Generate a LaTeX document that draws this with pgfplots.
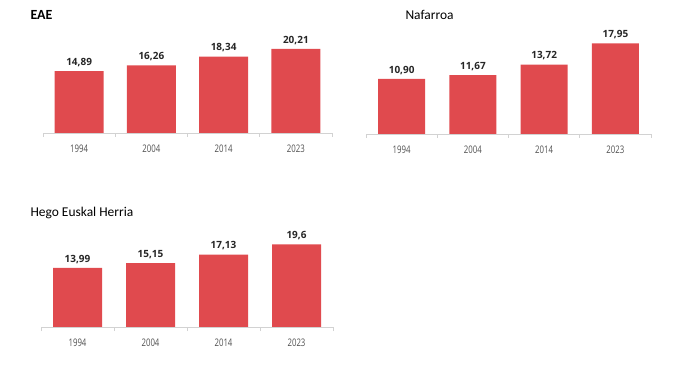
\documentclass[border=0pt]{standalone}
\usepackage{fontspec}
\setmainfont{Open Sans}
\newfontfamily\titlefont{Carlito}
\newfontfamily\tickfont[FakeStretch=0.75]{Open Sans}
\usepackage{pgfplots}
\pgfplotsset{compat=1.18}
\usepackage{pgfplotstable}
\definecolor{barred}{RGB}{224,74,78}
\definecolor{axgray}{RGB}{210,210,210}
\definecolor{tickgray}{RGB}{80,80,80}
\definecolor{lblgray}{RGB}{38,38,38}

\pgfplotstableread{
x y lbl
0 14.89 14,89
1 16.26 16,26
2 18.34 18,34
3 20.21 20,21
}\eae
\pgfplotstableread{
x y lbl
0 10.90 10,90
1 11.67 11,67
2 13.72 13,72
3 17.95 17,95
}\naf
\pgfplotstableread{
x y lbl
0 13.99 13,99
1 15.15 15,15
2 17.13 17,13
3 19.6 19,6
}\hego

\pgfplotsset{
  panel/.style={
    scale only axis, anchor=south west, clip=false,
    xmin=-0.5, xmax=3.5, ymin=0,
    axis y line=none, axis x line*=bottom,
    x axis line style={draw=axgray, line width=0.8bp},
    xtick={0,1,2,3}, xticklabels={1994,2004,2014,2023},
    major x tick style={draw=none},
    extra x ticks={-0.5,0.5,1.5,2.5,3.5}, extra x tick labels={},
    extra x tick style={tick align=outside, major tick length=4bp,
      major x tick style={draw=axgray, line width=0.8bp}},
    x tick label style={font=\tickfont\fontsize{10.5}{12}\selectfont, text=tickgray, yshift=-4.5bp},
    ybar,
    nodes near coords, point meta=explicit symbolic,
    nodes near coords style={font=\bfseries\fontsize{10}{12}\selectfont, text=lblgray, yshift=1bp},
  }
}

\begin{document}
\begin{tikzpicture}
\useasboundingbox (0,0) rectangle (681bp,379bp);

\node[anchor=base west, font=\titlefont\bfseries\fontsize{14}{16}\selectfont] at (27bp,359bp) {EAE};
\node[anchor=base west, font=\titlefont\fontsize{13.5}{15}\selectfont] at (402bp,359bp) {Nafarroa};
\node[anchor=base west, font=\titlefont\fontsize{13.5}{15}\selectfont] at (27bp,162bp) {Hego Euskal Herria};

\begin{axis}[panel, at={(43bp,246bp)}, width=289bp, height=104bp, ymax=25, bar width=49bp]
\addplot[fill=barred, draw=none] table[x=x, y=y, meta=lbl]{\eae};
\end{axis}

\begin{axis}[panel, at={(366bp,245bp)}, width=285bp, height=101bp, ymax=20, bar width=47bp]
\addplot[fill=barred, draw=none] table[x=x, y=y, meta=lbl]{\naf};
\end{axis}

\begin{axis}[panel, at={(41bp,52bp)}, width=292bp, height=105.5bp, ymax=25, bar width=49bp]
\addplot[fill=barred, draw=none] table[x=x, y=y, meta=lbl]{\hego};
\end{axis}
\end{tikzpicture}
\end{document}
